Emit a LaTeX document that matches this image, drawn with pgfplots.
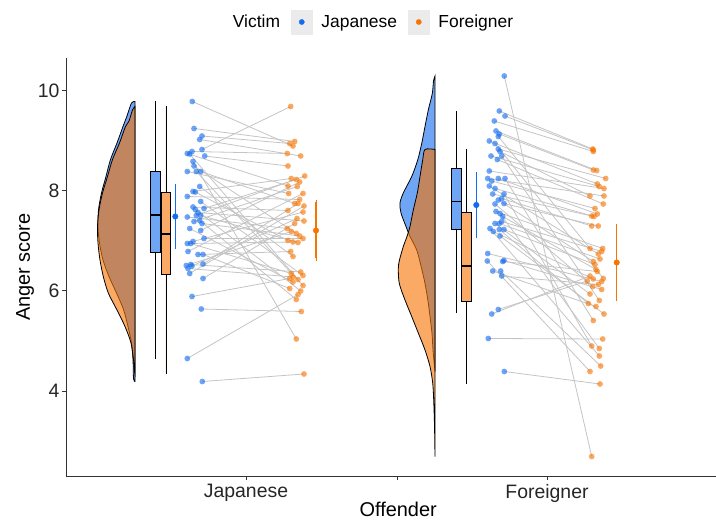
\documentclass[border=0pt]{standalone}
\usepackage{pgfplots}
\pgfplotsset{compat=1.18}
\usepackage{pgfplotstable}
\usepgfplotslibrary{statistics}
\usepackage{fontspec}
\setmainfont{Liberation Sans}
\definecolor{cblue}{HTML}{136CEF}
\definecolor{corange}{HTML}{F77401}
\definecolor{cline}{HTML}{C4C4C4}
\definecolor{axcol}{HTML}{333333}
\definecolor{keybg}{HTML}{EBEBEB}

\pgfplotstableread{
xb yb xo yo
192.3 9.79 293.0 8.90
194.0 9.25 294.7 8.99
202.0 9.10 289.7 8.95
199.7 9.03 300.7 8.70
202.0 8.83 290.7 9.69
192.0 8.79 287.3 8.75
187.3 8.75 288.0 8.10
189.7 8.74 298.0 6.23
204.7 8.70 288.0 8.50
193.0 8.59 296.3 5.04
194.0 8.50 296.3 7.15
187.3 8.39 288.7 7.95
196.3 8.39 303.0 6.11
200.7 8.39 294.7 7.75
199.7 8.09 293.0 6.69
193.0 7.99 291.3 8.25
195.3 7.98 288.0 7.01
187.3 7.89 299.7 7.83
200.7 7.79 303.0 6.31
193.0 7.68 288.0 7.61
204.0 7.65 296.3 8.23
195.3 7.63 300.7 6.00
198.0 7.57 304.0 7.40
196.3 7.51 304.7 8.30
200.7 7.51 298.0 6.97
187.3 7.48 287.3 7.25
199.7 7.41 296.3 5.83
194.0 7.39 297.3 8.09
202.0 7.35 299.7 7.10
189.7 7.25 293.0 6.18
200.7 7.21 299.7 8.18
204.0 7.05 303.0 7.05
193.0 6.99 303.0 7.58
187.3 6.95 293.0 6.98
190.7 6.95 291.3 6.35
188.0 6.79 303.0 7.95
198.0 6.73 290.7 6.79
203.0 6.73 289.7 6.05
203.0 6.54 298.0 7.75
190.7 6.53 300.7 6.38
186.3 6.51 291.3 7.19
192.0 6.50 297.0 7.45
188.0 6.45 293.0 6.28
189.7 6.35 304.0 7.70
203.0 6.25 294.7 7.35
192.0 5.89 289.7 6.25
201.3 5.64 301.3 5.59
187.3 4.65 298.0 5.93
202.3 4.19 304.0 4.34
}\jdata

\pgfplotstableread{
xb yb xo yo
504.3 10.30 591.7 2.69
499.3 9.60 592.7 8.84
505.0 9.50 593.3 8.82
494.3 9.40 593.3 8.79
496.0 9.20 596.7 8.41
499.3 9.14 593.3 8.42
498.3 9.09 590.0 6.85
489.3 9.00 597.3 8.14
495.0 8.95 603.3 6.25
498.3 8.84 605.7 8.25
500.0 8.79 590.0 7.90
491.0 8.70 599.3 8.09
501.7 8.70 599.3 5.81
497.3 8.63 603.3 7.74
489.3 8.40 604.0 8.05
487.7 8.25 604.0 7.90
498.3 8.25 597.3 7.54
505.0 8.25 593.3 5.41
491.7 8.20 595.0 7.65
489.3 8.10 598.3 6.74
495.0 8.05 594.0 7.49
492.7 7.94 591.7 7.50
504.0 7.94 591.7 4.90
501.7 7.85 591.7 7.30
498.3 7.82 593.3 6.59
504.0 7.75 598.3 7.30
495.0 7.74 592.7 6.09
496.0 7.59 602.7 6.85
500.0 7.55 599.3 4.85
502.7 7.49 596.0 6.43
501.7 7.39 601.7 6.79
495.0 7.35 590.0 5.94
499.3 7.35 600.0 6.64
490.0 7.25 599.3 4.70
504.0 7.23 595.0 6.53
499.3 7.23 588.3 5.75
493.3 7.19 593.3 6.24
500.0 7.10 604.0 5.54
487.7 6.75 601.7 6.19
504.0 6.61 601.7 6.03
487.3 6.60 590.0 4.39
502.7 6.59 597.3 6.39
492.7 6.40 596.0 5.69
500.7 6.40 600.7 4.50
501.7 6.30 598.3 6.13
498.3 5.63 587.3 6.20
491.7 5.54 590.0 6.30
488.3 5.05 602.7 5.04
504.3 4.39 600.0 4.14
}\fdata

\begin{document}
\begin{tikzpicture}
\begin{axis}[
  disabledatascaling,
  scale only axis, width=650bp, height=418bp,
  xmin=66, xmax=716, ymin=2.30, ymax=10.66,
  axis x line*=bottom, axis y line*=left,
  axis line style={line width=1bp, draw=axcol},
  xtick={246,397,547}, xticklabels={Japanese,{},Foreigner},
  ytick={4,6,8,10},
  tick align=outside, major tick length=4bp,
  tick style={line width=1bp, draw=axcol},
  /pgf/number format/assume math mode=true,
  ticklabel style={font=\fontsize{19.5}{22}\selectfont, text=black!85},
  xticklabel style={yshift=-1bp},
  yticklabel style={xshift=1bp},
  xlabel={Offender}, ylabel={Anger score},
  label style={font=\fontsize{20}{24}\selectfont},
  xlabel style={at={(axis description cs:0.511,-0.0957)}, anchor=base},
  ylabel style={at={(axis description cs:-0.0630,0.5)}, anchor=center},
  legend style={at={(axis description cs:0.4654,1.0861)}, anchor=center,
    draw=none, fill=none, legend columns=-1,
    font=\fontsize{17.5}{20}\selectfont,
    column sep=0pt, nodes={inner sep=0pt},
    /tikz/every odd column/.append style={column sep=9bp},
    /tikz/every even column/.append style={column sep=11bp}},
  boxplot/draw direction=y,
]
\coordinate (bl) at (rel axis cs:0,0);
\coordinate (tr) at (rel axis cs:1,1);

\addlegendimage{empty legend}
\addlegendentry{Victim}
\addlegendimage{legend image code/.code={\fill[keybg] (0bp,-12bp) rectangle (21bp,12bp); \fill[cblue] (10.5bp,0bp) circle (2.6bp);}}
\addlegendentry{Japanese}
\addlegendimage{legend image code/.code={\fill[keybg] (0bp,-12bp) rectangle (21bp,12bp); \fill[corange] (10.5bp,0bp) circle (2.6bp);}}
\addlegendentry{Foreigner}

% half violins
\addplot[draw=black, line width=0.8bp, fill=cblue, fill opacity=0.61, smooth, tension=0.5] coordinates {
(135,9.79) (131.5,9.76) (127,9.5) (123,9.29) (117,8.96) (110.5,8.63) (106,8.29) (101.5,7.96) (98.5,7.62) (98,7.29) (99.5,6.96) (103,6.62) (109,6.29) (116.5,5.96) (123.5,5.63) (128,5.29) (131.5,4.96) (133,4.63) (133.5,4.25) (135,4.19)
} -- cycle;
\addplot[draw=black, line width=0.8bp, fill=corange, fill opacity=0.61, smooth, tension=0.5] coordinates {
(135,9.69) (132.5,9.62) (129,9.4) (125.5,9.29) (119.5,8.96) (112.5,8.63) (107.5,8.29) (102.5,7.96) (99,7.62) (97.5,7.29) (98,6.96) (100,6.62) (103.3,6.29) (108.3,5.96) (116.7,5.63) (125,5.29) (131,4.96) (133.5,4.63) (134.5,4.4) (135,4.34)
} -- cycle;
\addplot[draw=black, line width=0.8bp, fill=cblue, fill opacity=0.61, smooth, tension=0.5] coordinates {
(435,10.30) (433.5,10.2) (432.3,9.95) (428.3,9.62) (425,9.29) (421.7,8.95) (417.7,8.62) (411.7,8.29) (403.3,7.96) (400,7.76) (401,7.56) (406,7.29) (410,7.09) (416.7,6.82) (421,6.5) (425,6.15) (428,5.8) (430,5.49) (432,5.15) (433,4.82) (434,4.6) (435,4.39)
} -- cycle;
\addplot[draw=black, line width=0.8bp, fill=corange, fill opacity=0.61, smooth, tension=0.5] coordinates {
(435,8.83) (425,8.83) (422.7,8.62) (420,8.29) (417.3,7.96) (413.3,7.62) (410,7.29) (407,7.09) (403.3,6.89) (399.5,6.62) (398.3,6.45) (399.3,6.15) (405,5.82) (411.7,5.49) (418.3,5.16) (425,4.82) (430,4.49) (432.7,4.16) (433.7,3.82) (434.5,3.3) (435,2.69)
} -- cycle;

% boxplots
\addplot[draw=black, line width=0.6bp, fill=cblue, fill opacity=0.61,
  boxplot prepared={draw direction=y, draw position=155.3, box extend=10, lower whisker=4.64, lower quartile=6.77, median=7.52, upper quartile=8.40, upper whisker=9.79, whisker extend=0, every median/.style={line width=1.4bp}}] coordinates {};
\addplot[draw=black, line width=0.6bp, fill=corange, fill opacity=0.61,
  boxplot prepared={draw direction=y, draw position=165.8, box extend=9.7, lower whisker=4.34, lower quartile=6.33, median=7.14, upper quartile=7.98, upper whisker=9.69, whisker extend=0, every median/.style={line width=1.4bp}}] coordinates {};
\addplot[draw=black, line width=0.6bp, fill=cblue, fill opacity=0.61,
  boxplot prepared={draw direction=y, draw position=456.2, box extend=10.3, lower whisker=5.55, lower quartile=7.23, median=7.79, upper quartile=8.46, upper whisker=9.59, whisker extend=0, every median/.style={line width=1.4bp}}] coordinates {};
\addplot[draw=black, line width=0.6bp, fill=corange, fill opacity=0.61,
  boxplot prepared={draw direction=y, draw position=466.5, box extend=10.4, lower whisker=4.15, lower quartile=5.79, median=6.50, upper quartile=7.57, upper whisker=8.83, whisker extend=0, every median/.style={line width=1.4bp}}] coordinates {};

% connecting lines
\addplot[cline, line width=0.8bp, quiver={u={\thisrow{xo}-\thisrow{xb}}, v={\thisrow{yo}-\thisrow{yb}}}] table[x=xb,y=yb]{\jdata};
\addplot[cline, line width=0.8bp, quiver={u={\thisrow{xo}-\thisrow{xb}}, v={\thisrow{yo}-\thisrow{yb}}}] table[x=xb,y=yb]{\fdata};

% points
\addplot[cblue, only marks, mark=*, mark size=2.9pt, mark options={draw opacity=0, fill=cblue, fill opacity=0.62}] table[x=xb,y=yb]{\jdata};
\addplot[corange, only marks, mark=*, mark size=2.9pt, mark options={draw opacity=0, fill=corange, fill opacity=0.62}] table[x=xo,y=yo]{\jdata};
\addplot[cblue, only marks, mark=*, mark size=2.9pt, mark options={draw opacity=0, fill=cblue, fill opacity=0.62}] table[x=xb,y=yb]{\fdata};
\addplot[corange, only marks, mark=*, mark size=2.9pt, mark options={draw opacity=0, fill=corange, fill opacity=0.62}] table[x=xo,y=yo]{\fdata};

% means with error bars
\addplot[cblue, only marks, mark=*, mark size=2.8pt, mark options={fill=cblue, draw=cblue},
  error bars/.cd, y dir=both, y explicit, error bar style={line width=1.1bp, cblue},
  error mark options={cblue, mark size=2.8pt, line width=0.9bp}]
  coordinates {(175.3,7.49) +- (0,0.585) (476.3,7.72) +- (0,0.61)};
\addplot[corange, only marks, mark=*, mark size=2.8pt, mark options={fill=corange, draw=corange},
  error bars/.cd, y dir=both, y explicit, error bar style={line width=1.1bp, corange},
  error mark options={corange, mark size=2.8pt, line width=0.9bp}]
  coordinates {(316.0,7.21) +- (0,0.56) (616.7,6.57) +- (0,0.71)};
\end{axis}
\pgfresetboundingbox
\path ([shift={(-66bp,-43bp)}]bl) rectangle ([shift={(0bp,58bp)}]tr);
\end{tikzpicture}
\end{document}
